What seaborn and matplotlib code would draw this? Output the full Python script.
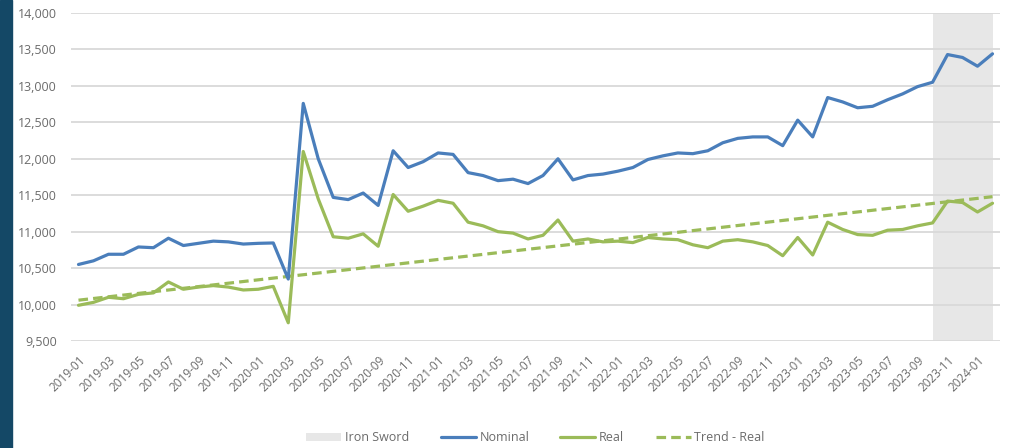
import numpy as np
import pandas as pd
import matplotlib
matplotlib.use("Agg")
import matplotlib.pyplot as plt
import seaborn as sns
from matplotlib.patches import Rectangle

months = pd.date_range("2019-01-01", "2024-02-01", freq="MS").strftime("%Y-%m").tolist()

nominal = [10550, 10600, 10690, 10690, 10790, 10780, 10910, 10810, 10840, 10870,
           10860, 10830, 10840, 10845, 10350, 12760, 12000, 11470, 11440, 11530,
           11360, 12110, 11880, 11960, 12080, 12060, 11810, 11770, 11700, 11720,
           11660, 11770, 12000, 11710, 11770, 11790, 11830, 11880, 11990, 12040,
           12080, 12070, 12110, 12220, 12280, 12300, 12300, 12180, 12530, 12300,
           12840, 12780, 12700, 12720, 12810, 12890, 12990, 13050, 13430, 13390,
           13270, 13440]

real = [9990, 10030, 10100, 10080, 10140, 10160, 10310, 10210, 10240, 10260,
        10240, 10200, 10210, 10250, 9750, 12100, 11450, 10930, 10910, 10970,
        10800, 11510, 11280, 11350, 11430, 11390, 11130, 11080, 11000, 10980,
        10900, 10950, 11160, 10870, 10900, 10860, 10870, 10850, 10920, 10900,
        10890, 10820, 10780, 10870, 10890, 10860, 10810, 10670, 10920, 10680,
        11130, 11030, 10960, 10950, 11020, 11030, 11080, 11120, 11420, 11400,
        11270, 11390]

# Linear trend line (Real), endpoint values
trend_months = ["2019-01", "2024-02"]
trend_values = [10060, 11480]

shade_months = ["2023-10", "2023-11", "2023-12", "2024-01", "2024-02"]
y_ticks = [9500, 10000, 10500, 11000, 11500, 12000, 12500, 13000, 13500, 14000]

df = pd.DataFrame({"month": months, "nominal": nominal, "real": real})
df["idx"] = np.arange(len(df))
pos = dict(zip(df["month"], df["idx"]))
trend_df = pd.DataFrame({"idx": [pos[m] for m in trend_months], "trend": trend_values})

BLUE = "#4a7ebb"
GREEN = "#9bbb59"
GREY_TXT = "#6b6b6b"

sns.set_theme(style="white")
plt.rcParams["font.family"] = ["Open Sans", "DejaVu Sans"]

fig = plt.figure(figsize=(10.13, 4.48), dpi=100)
fig.patches.append(Rectangle((0, 0), 12 / 1013, 1, transform=fig.transFigure,
                             color="#144866", zorder=0))
ax = fig.add_axes([71 / 1013, 1 - 341 / 448, (1000 - 71) / 1013, (341 - 13) / 448])

shade = df[df["month"].isin(shade_months)]
ax.fill_between(shade["idx"], y_ticks[0], y_ticks[-1], color="#e7e7e7",
                linewidth=0, zorder=0, label="Iron Sword")

for y in y_ticks:
    ax.axhline(y, color="#d9d9d9", lw=1.3, zorder=0.5)

sns.lineplot(data=df, x="idx", y="nominal", ax=ax, color=BLUE, lw=2.3,
             label="Nominal", zorder=3)
sns.lineplot(data=df, x="idx", y="real", ax=ax, color=GREEN, lw=2.3,
             label="Real", zorder=3)
sns.lineplot(data=trend_df, x="idx", y="trend", ax=ax, color=GREEN, lw=2.3,
             ls=(0, (3, 1.6)), label="Trend - Real", zorder=2)

ax.set_xlim(-0.5, len(df) - 0.5)
ax.set_ylim(y_ticks[0], y_ticks[-1])
ax.set_yticks(y_ticks)
ax.set_yticklabels([f"{v:,}" for v in y_ticks], color=GREY_TXT, fontsize=9)
ax.set_xticks(df["idx"][::2])
ax.set_xticklabels(df["month"][::2], rotation=45, ha="right", rotation_mode="anchor",
                   color=GREY_TXT, fontsize=8.5)
ax.tick_params(axis="x", length=0, pad=9)
ax.tick_params(axis="y", length=0, pad=10)
ax.set_xlabel("")
ax.set_ylabel("")
for s in ax.spines.values():
    s.set_visible(False)

handles, labels = ax.get_legend_handles_labels()
order = ["Iron Sword", "Nominal", "Real", "Trend - Real"]
hmap = dict(zip(labels, handles))
ax.legend([hmap[k] for k in order], order, loc="center", bbox_to_anchor=(0.5, -0.295),
          ncol=4, frameon=False, fontsize=9, labelcolor=GREY_TXT, handlelength=2.8,
          columnspacing=2.5, handletextpad=0.3)

fig.savefig("out.png", dpi=100)
